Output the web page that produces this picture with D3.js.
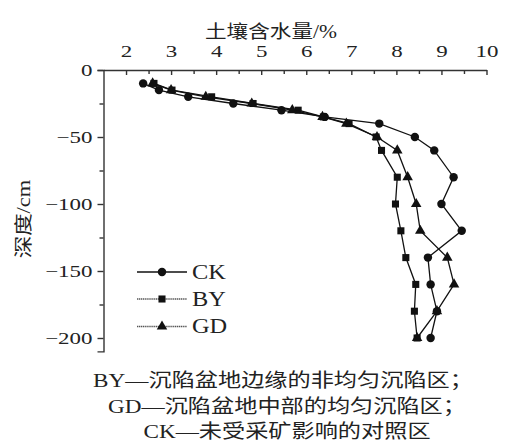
<!DOCTYPE html>
<html lang="zh">
<head>
    <meta charset="UTF-8">
    <title>土壤含水量</title>
    <script src="https://cdn.jsdelivr.net/npm/d3@7"></script>
    <style>
        body { margin: 0; background: #fff; }
        svg { display: block; }
        text { font-family: "Liberation Serif", "Noto Sans CJK SC", serif; fill: #222; }
    </style>
</head>
<body>
    <div id="chart"></div>
    <script>
        // depth of each sample (cm)
        const depths = [-10, -15, -20, -25, -30, -35, -40, -50, -60, -80, -100, -120, -140, -160, -180, -200];
        // soil water content (%)
        const ckValues = [2.38, 2.73, 3.38, 4.38, 5.45, 6.41, 7.62, 8.41, 8.84, 9.27, 9.0, 9.45, 8.70, 8.76, 8.90, 8.76];
        const byValues = [2.62, 3.02, 3.90, 4.82, 5.82, 6.38, 6.95, 7.55, 7.67, 8.02, 7.98, 8.10, 8.21, 8.43, 8.40, 8.46];
        const gdValues = [2.59, 3.00, 3.77, 4.79, 5.69, 6.36, 6.89, 7.57, 8.02, 8.25, 8.44, 8.53, 9.13, 9.28, 8.90, 8.46];

        const seriesNames = ['CK', 'BY', 'GD'];
        const xTicks = [2, 3, 4, 5, 6, 7, 8, 9, 10];
        const yTicks = [0, -50, -100, -150, -200];
        const captionLines = [
            'BY—沉陷盆地边缘的非均匀沉陷区；',
            'GD—沉陷盆地中部的均匀沉陷区；',
            'CK—未受采矿影响的对照区'
        ];

        const width = 511, height = 443;
        const svg = d3.select('#chart').append('svg')
            .attr('width', width)
            .attr('height', height);

        const x = d3.scaleLinear().domain([1.5, 10]).range([103.5, 486.5]);
        const y = d3.scaleLinear().domain([0, -210]).range([70, 351.4]);

        // text in the source is drawn horizontally wide, so stretch it
        function label(str, px, py, size, sx, anchor, rot) {
            return svg.append('text')
                .attr('transform', `translate(${px},${py}) rotate(${rot || 0}) scale(${sx},1)`)
                .attr('text-anchor', anchor || 'start')
                .attr('dominant-baseline', 'central')
                .attr('font-size', size)
                .text(str);
        }

        const axisColor = '#333';

        // top x axis, ticks pointing into the plot
        const xAxis = svg.append('g')
            .attr('transform', `translate(0,${y(0)})`)
            .call(d3.axisTop(x).tickValues(xTicks).tickSizeInner(-5).tickSizeOuter(0).tickPadding(9));
        svg.append('g')
            .attr('transform', `translate(0,${y(0)})`)
            .call(d3.axisTop(x).tickValues(d3.range(2.5, 10, 1)).tickSizeInner(-4).tickSizeOuter(0).tickFormat(''))
            .select('.domain').remove();

        // left y axis, ticks pointing outward
        const yAxis = svg.append('g')
            .attr('transform', `translate(${x(1.5)},0)`)
            .call(d3.axisLeft(y).tickValues(yTicks).tickSize(6).tickPadding(5));
        svg.append('g')
            .attr('transform', `translate(${x(1.5)},0)`)
            .call(d3.axisLeft(y).tickValues([-25, -75, -125, -175]).tickSize(4).tickFormat(''))
            .select('.domain').remove();

        svg.selectAll('.domain, .tick line')
            .attr('stroke', axisColor)
            .attr('stroke-width', 1.4);

        xAxis.selectAll('text')
            .attr('font-size', 17)
            .attr('fill', '#222')
            .attr('transform', 'scale(1.35,1)')
            .attr('y', -13)
            .attr('dy', 0);
        yAxis.selectAll('text')
            .attr('font-size', 17)
            .attr('fill', '#222')
            .attr('transform', 'scale(1.35,1)')
            .attr('x', -11 / 1.35)
            .attr('dy', '0.33em');

        label('土壤含水量/%', 271, 32, 18, 1.2, 'middle');
        label('深度/cm', 24, 219, 18, 1.25, 'middle', -90);

        // series
        const series = [
            { name: 'CK', values: ckValues, shape: d3.symbolCircle, size: 56 },
            { name: 'BY', values: byValues, shape: d3.symbolSquare, size: 50 },
            { name: 'GD', values: gdValues, shape: d3.symbolTriangle, size: 48 }
        ];

        const line = d3.line()
            .x(d => x(d[0]))
            .y(d => y(d[1]));

        series.forEach(s => {
            const pts = s.values.map((v, i) => [v, depths[i]]);
            svg.append('path')
                .datum(pts)
                .attr('d', line)
                .attr('fill', 'none')
                .attr('stroke', '#111')
                .attr('stroke-width', 1.3);
            svg.append('g')
                .selectAll('path')
                .data(pts)
                .enter().append('path')
                .attr('d', d3.symbol().type(s.shape).size(s.size))
                .attr('transform', d => `translate(${x(d[0])},${y(d[1])})`)
                .attr('fill', '#111');
        });

        // legend
        const legendY = [272, 299, 326.5];
        series.forEach((s, i) => {
            const ly = legendY[i];
            svg.append('line')
                .attr('x1', 137).attr('x2', 187)
                .attr('y1', ly).attr('y2', ly)
                .attr('stroke', i === 0 ? '#111' : '#555')
                .attr('stroke-width', 1.3)
                .attr('stroke-dasharray', i === 0 ? null : '1.3,0.6');
            svg.append('path')
                .attr('d', d3.symbol().type(s.shape).size(s.size)())
                .attr('transform', `translate(162,${ly})`)
                .attr('fill', '#111');
            label(seriesNames[i], 192, ly, 20, 1.22, 'start');
        });

        // caption
        const capX = [283, 287, 287];
        const capY = [381, 407, 432];
        captionLines.forEach((t, i) => {
            label(t, capX[i], capY[i], 19, 1.22, 'middle');
        });
    </script>
</body>
</html>
